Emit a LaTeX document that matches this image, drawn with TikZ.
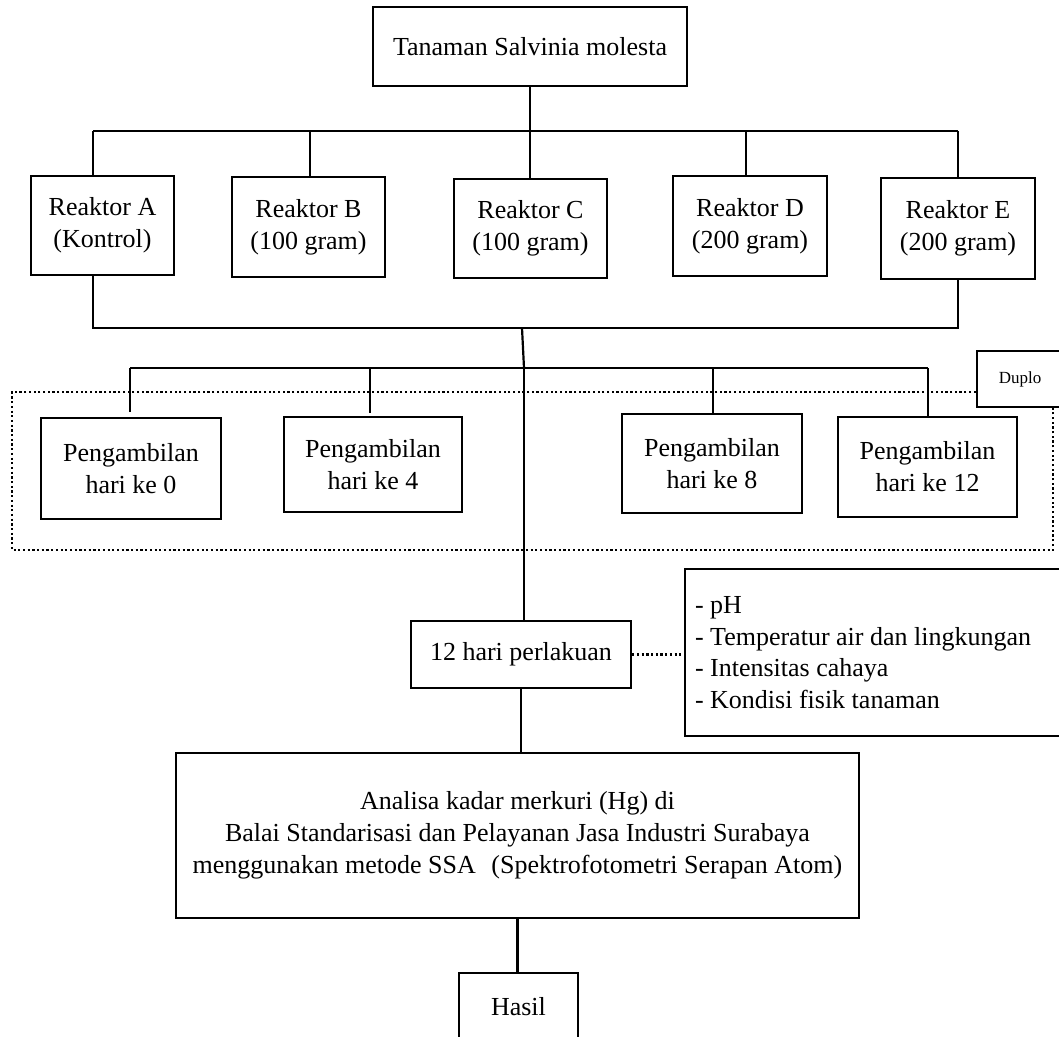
\documentclass[tikz,border=0pt]{standalone}
\usepackage{fontspec}
\setmainfont{Liberation Serif}
\usetikzlibrary{calc}
\begin{document}
\begin{tikzpicture}[x=1pt,y=-1pt,
  box/.style={draw, line width=2.5pt, inner sep=0pt, align=center, font=\fontsize{26}{32}\selectfont},
  link/.style={line width=2.2pt},
  dots/.style={line width=2.3pt, dash pattern=on 2.2pt off 2.5pt}]
\useasboundingbox (0,0) rectangle (1059,1036);

% top
\node[box, minimum width=314, minimum height=79] (top) at (530,46.5) {Tanaman Salvinia molesta};

% reactors
\node[box, minimum width=143, minimum height=99]  (rA) at (102.5,225.5) {Reaktor A\\(Kontrol)};
\node[box, minimum width=153, minimum height=100] (rB) at (308.5,227)   {Reaktor B\\(100 gram)};
\node[box, minimum width=153, minimum height=99]  (rC) at (530.5,228.5) {Reaktor C\\(100 gram)};
\node[box, minimum width=154, minimum height=100] (rD) at (750,226)     {Reaktor D\\(200 gram)};
\node[box, minimum width=154, minimum height=101] (rE) at (958,228.5)   {Reaktor E\\(200 gram)};

\coordinate (hL) at (93,131);
\coordinate (hR) at (958,131);
\draw[link] (top.south) -- (top.south |- hL);
\draw[link] (hL) -- (hR);
\draw[link] (hL) -- (hL |- rA.north);
\draw[link] (310,131) -- (310,0 |- rB.north);
\draw[link] (530,131) -- (530,0 |- rC.north);
\draw[link] (746,131) -- (746,0 |- rD.north);
\draw[link] (hR) -- (hR |- rE.north);

% collect line
\coordinate (bL) at (93,328);
\coordinate (bR) at (958,328);
\draw[link] (93,0 |- rA.south) -- (bL) -- (bR) -- (958,0 |- rE.south);

% sampling boxes
\node[box, minimum width=180, minimum height=101] (p0)  at (131,468.5) {Pengambilan\\hari ke 0};
\node[box, minimum width=178, minimum height=95]  (p4)  at (373,464.5) {Pengambilan\\hari ke 4};
\node[box, minimum width=180, minimum height=99]  (p8)  at (712,463.5) {Pengambilan\\hari ke 8};
\node[box, minimum width=179, minimum height=100] (p12) at (927.5,467) {Pengambilan\\hari ke 12};

\coordinate (m1) at (522,328);
\coordinate (m2) at (524,368);
\coordinate (sL) at (130,368);
\coordinate (sR) at (928,368);
\draw[link] (m1) -- (m2);
\draw[link] (sL) -- (sR);
\draw[link] (sL) -- (130,412);
\draw[link] (370,368) -- (370,413);
\draw[link] (713,368) -- (713,0 |- p8.north);
\draw[link] (sR) -- (sR |- p12.north);

% duplo
\node[draw, line width=2.5pt, inner sep=0pt, minimum width=86, minimum height=56,
      font=\fontsize{17}{20}\selectfont] (duplo) at (1020,379) {Duplo};
\coordinate (dT) at (12,392);
\draw[dots] (duplo.west |- dT) -- (dT) -- (12,550) -- (1053,550) -- (1053,0 |- duplo.south);

% treatment
\node[box, minimum width=220, minimum height=67] (perl) at (521,654.5) {12 hari perlakuan};
\draw[link] (m2) -- (m2 |- perl.north);

\node[box, align=flush left, text width=370, inner xsep=10pt, minimum height=167,
      font=\fontsize{26}{31.5}\selectfont] (param) at (880,652.5)
  {- pH\\- Temperatur air dan lingkungan\\- Intensitas cahaya\\- Kondisi fisik tanaman};
\draw[dots] (perl.east) -- (perl.east -| param.west);

% analysis
\node[box, minimum width=683, minimum height=165] (ana) at (517.5,835.5)
  {Analisa kadar merkuri (Hg) di\\Balai Standarisasi dan Pelayanan Jasa Industri Surabaya\\menggunakan metode SSA\hspace{0.35em} (Spektrofotometri Serapan Atom)};
\draw[link] (perl.south) -- (perl.south |- ana.north);

\node[box, minimum width=119, minimum height=68] (hasil) at (518.5,1007) {Hasil};
\draw[link] (ana.south) -- (ana.south |- hasil.north);
\end{tikzpicture}
\end{document}
